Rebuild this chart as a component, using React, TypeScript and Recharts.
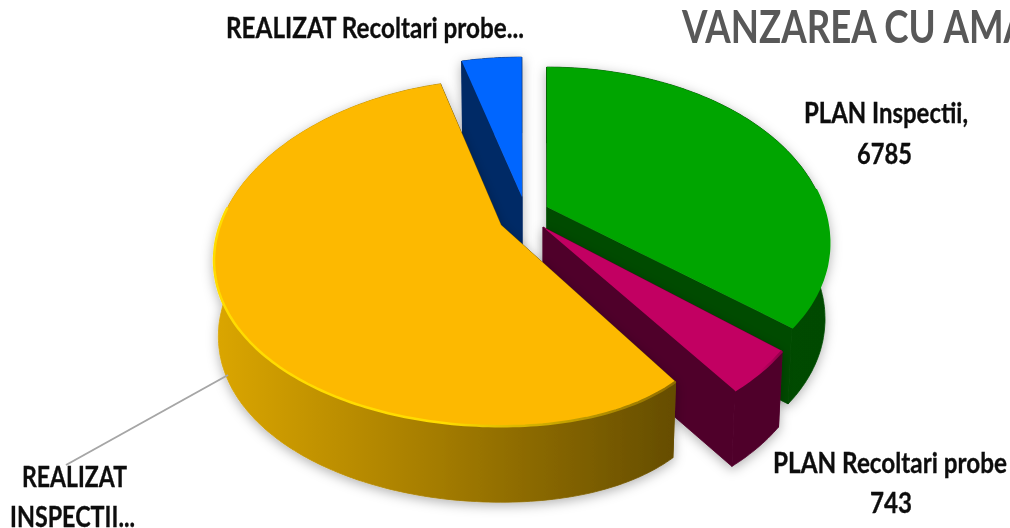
import React from "react";
import { PieChart, Pie } from "recharts";

const categories = ["REALIZAT Recoltari probe", "PLAN Inspectii", "PLAN Recoltari probe", "REALIZAT INSPECTII"];
const values = [780, 6785, 743, 10500];
const titleText = "VANZAREA CU AMA";
const labelLines = [
  ["REALIZAT Recoltari probe..."],
  ["PLAN Inspectii,", "6785"],
  ["PLAN Recoltari probe", "743"],
  ["REALIZAT", "INSPECTII..."],
];

const W = 1010;
const H = 528;
const CX = 520;
const CY = 225;
const R = 279;
const TILT = 0.604;
const PERSP = 0.2045;
const DEPTH = 76;
const FONT = "Lato, 'Open Sans', sans-serif";

const looks = [
  { dx: 2, dy: -28, kx: 0, kl: 0, ky: 0, kb: 0, top: "#0066ff", cut: "#002a66", wall: ["#002a66", "#002a66", "#002a66"], rim: ["#0066ff", "#0066ff"] },
  { dx: 27, dy: -18, kx: 0.01, kl: 0, ky: 0.04, kb: 0, top: "#00a500", cut: "#004c00", wall: ["#004c00", "#004c00", "#004a00"], rim: ["#00a500", "#00a500"] },
  { dx: 23, dy: 2, kx: 0.04, kl: 0, ky: 0, kb: 0, top: "#c20062", cut: "#50002b", wall: ["#50002b", "#50002b", "#50002b"], rim: ["#c20062", "#90004a"] },
  { dx: -19, dy: 0, kx: 0.19, kl: 0.007, ky: 0.05, kb: 0.04, top: "#fdb900", cut: "#6b5000", wall: ["#dba600", "#a87f00", "#654d00"], rim: ["#ffdc00", "#8f6c00"] },
];

const labelStyle = [
  [{ x: 226, y: 38, len: 298, size: 29 }],
  [{ x: 804, y: 123, len: 164, size: 29 }, { x: 857, y: 164, len: 55, size: 29 }],
  [{ x: 773, y: 473, len: 234, size: 29 }, { x: 870, y: 513, len: 42, size: 29 }],
  [{ x: 22, y: 487, len: 105, size: 29 }, { x: 10, y: 527, len: 125, size: 29 }],
];

type Look = (typeof looks)[number];

const project = (apexX: number, apexY: number, radius: number, deg: number, look: Look) => {
  const a = (deg * Math.PI) / 180;
  const u = Math.cos(a);
  const v = -Math.sin(a);
  const w = 1 / (1 - PERSP * v);
  const sx = 1 - look.kx * Math.max(u, 0) + look.kl * Math.max(-u, 0);
  const sy = 1 - look.ky * Math.max(v, 0) + look.kb * Math.max(-v, 0);
  return { x: apexX + radius * u * w * sx, y: apexY + radius * TILT * v * w * sy, v };
};

const lower = (p: { x: number; y: number; v: number }, apexX: number) => ({
  x: apexX + (p.x - apexX) * 0.985,
  y: p.y + DEPTH,
  v: p.v,
});

const pathOf = (pts: { x: number; y: number }[], close = true) =>
  pts.map((p, i) => `${i ? "L" : "M"}${p.x.toFixed(1)} ${p.y.toFixed(1)}`).join(" ") + (close ? " Z" : "");

const Slice3D = (props: any) => {
  const { cx, cy, outerRadius, startAngle, endAngle, index } = props;
  const idx = index ?? categories.indexOf(props.name);
  const look = looks[idx];
  const ax = cx + look.dx;
  const ay = cy + look.dy;
  const steps = Math.max(4, Math.ceil(Math.abs(startAngle - endAngle)));
  const arc = [];
  for (let i = 0; i <= steps; i++) {
    arc.push(project(ax, ay, outerRadius, startAngle + ((endAngle - startAngle) * i) / steps, look));
  }
  const apex = { x: ax, y: ay, v: 0 };
  const apexLow = lower(apex, ax);
  const low = arc.map((p) => lower(p, ax));
  const first = arc[0];
  const last = arc[arc.length - 1];
  const front = arc.filter((p) => p.v > -0.12);
  const minX = Math.min(...arc.map((p) => p.x));
  const maxX = Math.max(...arc.map((p) => p.x));
  return (
    <g filter="url(#sliceSoft)">
      <defs>
        <linearGradient id={`wall${idx}`} gradientUnits="userSpaceOnUse" x1={minX} x2={maxX} y1={0} y2={0}>
          <stop offset="0" stopColor={look.wall[0]} />
          <stop offset="0.45" stopColor={look.wall[1]} />
          <stop offset="1" stopColor={look.wall[2]} />
        </linearGradient>
        <linearGradient id={`rim${idx}`} gradientUnits="userSpaceOnUse" x1={minX} x2={maxX} y1={0} y2={0}>
          <stop offset="0" stopColor={look.rim[0]} />
          <stop offset="0.5" stopColor={look.rim[0]} />
          <stop offset="1" stopColor={look.rim[1]} />
        </linearGradient>
      </defs>
      <path d={pathOf([apex, first, lower(first, ax), apexLow])} fill={look.cut} stroke={look.cut} strokeWidth={0.8} />
      <path d={pathOf([apex, last, lower(last, ax), apexLow])} fill={look.cut} stroke={look.cut} strokeWidth={0.8} />
      <path d={pathOf([...arc, ...low.slice().reverse()])} fill={`url(#wall${idx})`} stroke={`url(#wall${idx})`} strokeWidth={0.8} />
      <path d={pathOf([apex, ...arc])} fill={look.top} />
      {front.length > 1 && <path d={pathOf(front, false)} fill="none" stroke={`url(#rim${idx})`} strokeWidth={2.5} />}
    </g>
  );
};

const SliceLabel = (props: any) => {
  const { index } = props;
  const lines = labelLines[index];
  return (
    <g filter="url(#textSoft)">
      {index === 3 && <line x1={228} y1={375} x2={66} y2={465} stroke="#a6a6a6" strokeWidth={2} />}
      {lines.map((t, i) => {
        const s = labelStyle[index][i];
        return (
          <text key={t} x={s.x} y={s.y} textLength={s.len} lengthAdjust="spacingAndGlyphs" fontFamily={FONT} fontWeight={700} fontSize={s.size} fill="#0d0d0d" stroke="#0d0d0d" strokeWidth={0.3}>
            {t}
          </text>
        );
      })}
    </g>
  );
};

const chartData = categories.map((name, i) => ({ name, value: values[i] }));

export default function App() {
  return (
    <div style={{ position: "fixed", left: 0, top: 0, width: W, height: H, overflow: "hidden", background: "#fff" }}>
      <PieChart width={W} height={H} margin={{ top: 0, right: 0, bottom: 0, left: 0 }}>
        <defs>
          <filter id="sliceSoft" filterUnits="userSpaceOnUse" x={0} y={0} width={W} height={H}>
            <feDropShadow dx={0} dy={3} stdDeviation={6} floodColor="#000" floodOpacity={0.3} result="s" />
            <feGaussianBlur in="s" stdDeviation={0.5} />
          </filter>
          <filter id="textSoft" filterUnits="userSpaceOnUse" x={0} y={0} width={W} height={H}>
            <feGaussianBlur stdDeviation={0.45} />
          </filter>
        </defs>
        <text x={682} y={43} textLength={347} lengthAdjust="spacingAndGlyphs" fontFamily={FONT} fontWeight={700} fontSize={46} fill="#595959" filter="url(#textSoft)">
          {titleText}
        </text>
        <Pie
          data={chartData}
          dataKey="value"
          nameKey="name"
          cx={CX}
          cy={CY}
          outerRadius={R}
          startAngle={105}
          endAngle={-255}
          stroke="none"
          isAnimationActive={false}
          shape={Slice3D}
          labelLine={false}
          label={SliceLabel}
        />
      </PieChart>
    </div>
  );
}
